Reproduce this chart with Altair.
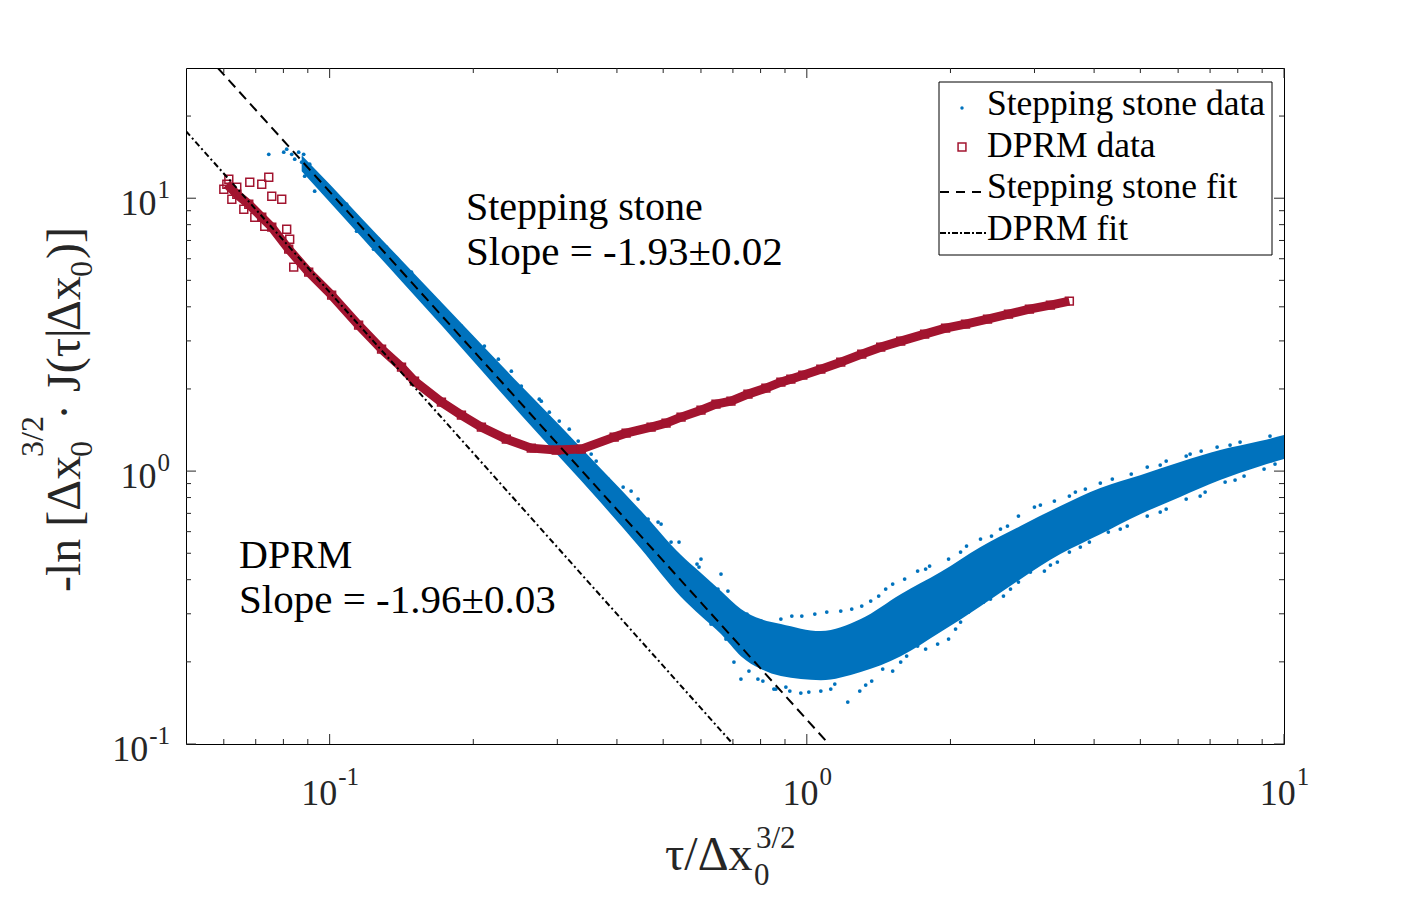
import altair as alt
import pandas as pd

BLUE = "#0072BD"
RED = "#A2142F"
FONT = "Liberation Serif"
DARK = "#262626"

# ---------------- data (decade exponents, log10) ----------------
# Stepping stone data: dense core of the cloud (upper / lower edge) at given log10(tau)
ss_band_lx = [-1.0586, -0.9958, -0.9331, -0.8494, -0.7657, -0.6820, -0.5983, -0.5146,
              -0.4310, -0.3473, -0.2636, -0.2218, -0.1799, -0.1381, -0.0962, -0.0544,
              0.0293, 0.1130, 0.1967, 0.2803, 0.3640, 0.4477, 0.5314, 0.6151,
              0.6987, 0.7824, 0.8661, 0.9498, 1.0]
ss_band_hi = [1.1575, 1.044, 0.9267, 0.7729, 0.619, 0.4652, 0.3114, 0.1612,
              0.0073, -0.1465, -0.3077, -0.3736, -0.4396, -0.505, -0.5421, -0.560,
              -0.586, -0.542, -0.451, -0.370, -0.278, -0.201, -0.128, -0.062,
              -0.015, 0.033, 0.077, 0.110, 0.132]
ss_band_lo = [1.099, 0.978, 0.857, 0.696, 0.5348, 0.37, 0.2051, 0.044,
              -0.1172, -0.2857, -0.4615, -0.5311, -0.5971, -0.678, -0.7253, -0.751,
              -0.766, -0.736, -0.678, -0.590, -0.495, -0.396, -0.304, -0.231,
              -0.158, -0.095, -0.033, 0.018, 0.044]

# Stepping stone data: individual scattered points
ss_dot_lx = [-1.1276, -1.0962, -1.0900, -1.0795, -1.0732, -1.0649, -1.0544, -1.0586,
             -1.0481, -1.0418, -1.0377, -1.0523, -1.0272, -1.0126, -1.0314, -0.9749,
             -0.8975, -0.8285, -0.7720, -0.7238, -0.6757, -0.6464,
             -0.6192, -0.5983, -0.5607, -0.5397, -0.5188, -0.4979, -0.4791, -0.4665,
             -0.4414, -0.4163, -0.3849, -0.3536, -0.3326, -0.3117, -0.2845, -0.2678,
             -0.2490, -0.2259, -0.1862, -0.1653, -0.1234, -0.1527, -0.1381, -0.1025,
             -0.0690, -0.0816,
             -0.9435, -0.9079, -0.8598, -0.7971, -0.7343, -0.6297, -0.5774, -0.4833,
             -0.3996, -0.3264, -0.2427, -0.2008, -0.1695,
             -0.9644, -0.8808, -0.7866, -0.7029, -0.5565, -0.4519, -0.3682, -0.3054,
             -0.2218, -0.1799,
             -0.2469, -0.2301, -0.1255, -0.0774, -0.0314, -0.0105, 0.0167, 0.0418,
             0.0711, 0.0941, 0.1151, 0.1506, 0.1799, 0.2050, 0.2322, 0.2573,
             0.2971, 0.3347, 0.3640, 0.3870, 0.4205, 0.4435, 0.4770, 0.5188,
             0.5502, 0.5837, 0.6402, 0.6799, 0.7134, 0.7531, 0.7950, 0.8264,
             0.8598, 0.9079,
             -0.0962, -0.0544, 0.1339, 0.1653, 0.2490, 0.3222, 0.4059, 0.4895,
             0.5628, 0.6151, 0.7406, 0.8033, 0.8870, 0.9707,
             -0.1213, -0.0921, -0.0649, -0.0356, 0.0042, 0.0293, 0.0586, 0.0858,
             0.1109, 0.1360, 0.1590, 0.1799, 0.2092, 0.2322, 0.2741, 0.2971,
             0.3222, 0.3389, 0.3703, 0.4121, 0.4435, 0.4686, 0.4979, 0.5251,
             0.5502, 0.5921, 0.6318, 0.6715, 0.7134, 0.7531, 0.7950, 0.8347,
             0.8766, 0.9163, 0.9582,
             -0.0439, -0.0126, 0.0502, 0.1234, 0.1967, 0.2490, 0.3117, 0.3849,
             0.4268, 0.5105, 0.5732, 0.6569, 0.7406, 0.8243, 0.8975, 0.9812]
ss_dot_ly = [1.161, 1.1685, 1.1795, 1.161, 1.143, 1.1685, 1.161, 1.132,
             1.117, 1.1245, 1.095, 1.0806, 1.0696, 1.022, 1.0256, 0.952,
             0.850, 0.729, 0.619, 0.531, 0.458, 0.410,
             0.3663, 0.3114, 0.2637, 0.2161, 0.1832, 0.1538, 0.1099, 0.0696,
             0.0366, -0.0293, -0.0586, -0.1026, -0.1758, -0.1868, -0.2601, -0.2601,
             -0.348, -0.3516, -0.4322, -0.4396, -0.5311, -0.6996, -0.7619, -0.7619,
             -0.7985, -0.7253,
             0.879, 0.8132, 0.7326, 0.6117, 0.5018, 0.3187, 0.2198, 0.0256,
             -0.1392, -0.2857, -0.4689, -0.5604, -0.6154,
             0.978, 0.8205, 0.6447, 0.4908, 0.2564, 0.0623, -0.0733, -0.1941,
             -0.3223, -0.3773,
             -0.348, -0.3407, -0.5238, -0.5714, -0.5311, -0.5311, -0.5238, -0.5165,
             -0.5128, -0.5055, -0.4945, -0.4579, -0.4139, -0.3956, -0.3663, -0.348,
             -0.3223, -0.2747, -0.2491, -0.2381, -0.2015, -0.1648, -0.1319, -0.1099,
             -0.0916, -0.0659, -0.0293, -0.011, 0.0147, 0.0366, 0.0549, 0.0733,
             0.0879, 0.1062,
             -0.5495, -0.5421, -0.4762, -0.4322, -0.359, -0.2967, -0.2125, -0.1245,
             -0.0769, -0.044, 0.022, 0.0623, 0.0952, 0.1282,
             -0.7326, -0.7692, -0.7985, -0.8059, -0.8095, -0.8059, -0.7802, -0.8462,
             -0.8059, -0.7692, -0.7253, -0.7326, -0.6777, -0.641, -0.6337, -0.6154,
             -0.5531, -0.5165, -0.4799, -0.4579, -0.4066, -0.37, -0.3663, -0.3333,
             -0.2967, -0.2601, -0.2234, -0.2015, -0.1648, -0.1392, -0.1026, -0.0769,
             -0.0403, -0.0183, 0.0073,
             -0.7912, -0.8132, -0.7985, -0.7839, -0.6996, -0.652, -0.5788, -0.4689,
             -0.4322, -0.3443, -0.2784, -0.2125, -0.1502, -0.0916, -0.033, 0.0256]

# DPRM data: main trace
dp_lx = [-1.2155, -1.1946, -1.1695, -1.1423, -1.1213, -1.0858, -1.0439, -0.9958,
         -0.9393, -0.8912, -0.8494, -0.8222, -0.7657, -0.7238, -0.6820, -0.6297,
         -0.5774, -0.5251, -0.4728, -0.4038, -0.3787, -0.3264, -0.2950, -0.2636,
         -0.2218, -0.1904, -0.1590, -0.1234, -0.0858, -0.0544, -0.0335, -0.0084,
         0.0293, 0.0711, 0.1151, 0.1548, 0.1967, 0.2469, 0.2908, 0.3326,
         0.3787, 0.4226, 0.4665, 0.5105, 0.5502]
dp_ly = [1.0513, 1.0147, 0.978, 0.9304, 0.8938, 0.8132, 0.7289, 0.6447,
         0.5348, 0.4469, 0.381, 0.3297, 0.2527, 0.2051, 0.1612, 0.1172,
         0.0842, 0.0769, 0.0806, 0.1245, 0.1392, 0.1612, 0.1758, 0.1978,
         0.2234, 0.2454, 0.2564, 0.2821, 0.304, 0.326, 0.337, 0.3516,
         0.3736, 0.3993, 0.4286, 0.4542, 0.4762, 0.5018, 0.5238, 0.5385,
         0.5568, 0.5751, 0.5934, 0.6081, 0.6227]
# DPRM data: scattered early points
dp_out_lx = [-1.2113, -1.1946, -1.1674, -1.1423, -1.1276, -1.1213, -1.1004, -1.1569,
             -1.1360, -1.0753, -1.0900, -1.0837, -1.1799, -1.2050, -1.2218]
dp_out_ly = [1.0696, 1.0403, 1.0586, 1.0513, 1.0769, 1.0073, 0.9963, 0.9304,
             0.8974, 0.7473, 0.8864, 0.8498, 0.9597, 0.9963, 1.033]

# fits (end points, real units)
ss_fit_x = [0.0583, 1.112]
ss_fit_y = [30.0, 0.1]
dp_fit_x = [0.05, 0.700]
dp_fit_y = [17.6, 0.1]

# axes
x_major = [0.1, 1, 10]
x_minor = [0.06, 0.07, 0.08, 0.09, 0.2, 0.3, 0.4, 0.5, 0.6, 0.7, 0.8, 0.9,
           2, 3, 4, 5, 6, 7, 8, 9]
y_major = [0.1, 1, 10]
y_minor = [0.2, 0.3, 0.4, 0.5, 0.6, 0.7, 0.8, 0.9, 2, 3, 4, 5, 6, 7, 8, 9, 20]
tick_sup = ["-1", "0", "1"]

# ---------------- frames ----------------
df_band = pd.DataFrame({"x": [10 ** v for v in ss_band_lx],
                        "hi": [10 ** v for v in ss_band_hi],
                        "lo": [10 ** v for v in ss_band_lo]})
df_ssdot = pd.DataFrame({"x": [10 ** v for v in ss_dot_lx], "y": [10 ** v for v in ss_dot_ly]})
df_dp = pd.DataFrame({"x": [10 ** v for v in dp_lx], "y": [10 ** v for v in dp_ly]})
df_dpo = pd.DataFrame({"x": [10 ** v for v in dp_out_lx], "y": [10 ** v for v in dp_out_ly]})
df_ssfit = pd.DataFrame({"x": ss_fit_x, "y": ss_fit_y})
df_dpfit = pd.DataFrame({"x": dp_fit_x, "y": dp_fit_y})

W, H = 1098, 676
xsc = alt.Scale(type="log", domain=[0.05, 10])
ysc = alt.Scale(type="log", domain=[0.1, 30])


def ex(f):
    return alt.X(f"{f}:Q", scale=xsc, axis=None)


def ey(f):
    return alt.Y(f"{f}:Q", scale=ysc, axis=None)


one = pd.DataFrame({"a": [0]})


def txt(s, x, y, size, angle=None, align="left", color="black"):
    kw = dict(text=s, fontSize=size, font=FONT, align=align, baseline="alphabetic", color=color)
    if angle is not None:
        kw["angle"] = angle
    return alt.Chart(one).mark_text(**kw).encode(x=alt.value(x), y=alt.value(y))


SQ = dict(shape="square", filled=False, size=62, strokeWidth=1.5, color=RED, opacity=1)

layers = []
# stepping stone data
layers.append(alt.Chart(df_band).mark_area(color=BLUE, opacity=1, clip=True, interpolate="monotone").encode(
    x=ex("x"), y=ey("hi"), y2=alt.Y2("lo")))
layers.append(alt.Chart(df_ssdot).mark_circle(color=BLUE, size=14, opacity=1, clip=True).encode(
    x=ex("x"), y=ey("y")))
# DPRM data
layers.append(alt.Chart(df_dp).mark_line(color=RED, strokeWidth=9, clip=True, strokeJoin="round").encode(
    x=ex("x"), y=ey("y")))
layers.append(alt.Chart(df_dp).mark_point(clip=True, **SQ).encode(x=ex("x"), y=ey("y")))
layers.append(alt.Chart(df_dpo).mark_point(clip=True, **SQ).encode(x=ex("x"), y=ey("y")))
# fits
layers.append(alt.Chart(df_ssfit).mark_line(color="black", strokeWidth=2, strokeDash=[10, 6], clip=True).encode(
    x=ex("x"), y=ey("y")))
layers.append(alt.Chart(df_dpfit).mark_line(color="black", strokeWidth=2, strokeDash=[6, 3, 2, 3], clip=True).encode(
    x=ex("x"), y=ey("y")))

# ticks (inward, all four sides)
for vals, L in ((x_major, 10), (x_minor, 5)):
    d = pd.DataFrame({"v": vals})
    layers.append(alt.Chart(d).mark_rule(color=DARK, strokeWidth=1).encode(
        x=ex("v"), y=alt.value(H), y2=alt.value(H - L)))
    layers.append(alt.Chart(d).mark_rule(color=DARK, strokeWidth=1).encode(
        x=ex("v"), y=alt.value(0), y2=alt.value(L)))
for vals, L in ((y_major, 10), (y_minor, 5)):
    d = pd.DataFrame({"v": vals})
    layers.append(alt.Chart(d).mark_rule(color=DARK, strokeWidth=1).encode(
        y=ey("v"), x=alt.value(0), x2=alt.value(L)))
    layers.append(alt.Chart(d).mark_rule(color=DARK, strokeWidth=1).encode(
        y=ey("v"), x=alt.value(W), x2=alt.value(W - L)))

# tick labels
BASE, SUP = 36, 25


def supw(s):
    return sum(0.333 if c == "-" else 0.5 for c in s) * SUP


for v, s in zip(x_major, tick_sup):
    d = pd.DataFrame({"v": [v]})
    dx = (BASE - supw(s)) / 2
    layers.append(alt.Chart(d).mark_text(text="10", fontSize=BASE, font=FONT, align="right",
                                         baseline="alphabetic", dx=dx, color=DARK).encode(
        x=ex("v"), y=alt.value(737)))
    layers.append(alt.Chart(d).mark_text(text=s, fontSize=SUP, font=FONT, align="left",
                                         baseline="alphabetic", dx=dx + 1, color=DARK).encode(
        x=ex("v"), y=alt.value(717)))
for v, s in zip(y_major, tick_sup):
    d = pd.DataFrame({"v": [v]})
    layers.append(alt.Chart(d).mark_text(text="10", fontSize=BASE, font=FONT, align="right",
                                         baseline="alphabetic", dy=17, color=DARK).encode(
        y=ey("v"), x=alt.value(-16 - supw(s) - 1)))
    layers.append(alt.Chart(d).mark_text(text=s, fontSize=SUP, font=FONT, align="right",
                                         baseline="alphabetic", dy=0, color=DARK).encode(
        y=ey("v"), x=alt.value(-16)))

# annotations
layers.append(txt("Stepping stone", 280, 152, 40))
layers.append(txt("Slope = -1.93\u00b10.02", 280, 197, 41))
layers.append(txt("DPRM", 53, 500, 40))
layers.append(txt("Slope = -1.96\u00b10.03", 53, 545, 41))

# legend
layers.append(alt.Chart(one).mark_rect(fill="white", stroke="black", strokeWidth=1).encode(
    x=alt.value(753), x2=alt.value(1086), y=alt.value(14), y2=alt.value(187)))
layers.append(alt.Chart(one).mark_circle(color=BLUE, size=12, opacity=1).encode(
    x=alt.value(776), y=alt.value(40)))
layers.append(alt.Chart(one).mark_point(**SQ).encode(x=alt.value(776), y=alt.value(79)))
layers.append(alt.Chart(one).mark_rule(color="black", strokeWidth=2, strokeDash=[9, 7]).encode(
    x=alt.value(754), x2=alt.value(800), y=alt.value(124)))
layers.append(alt.Chart(one).mark_rule(color="black", strokeWidth=2, strokeDash=[6, 2, 2, 2]).encode(
    x=alt.value(754), x2=alt.value(800), y=alt.value(165)))
LEG = 35.5
layers.append(txt("Stepping stone data", 801, 47, LEG))
layers.append(txt("DPRM data", 801, 89, LEG))
layers.append(txt("Stepping stone fit", 801, 130, LEG))
layers.append(txt("DPRM fit", 801, 172, LEG))

# axis titles
layers.append(txt("\u03c4/\u0394x", 479, 802, 48, color=DARK))
layers.append(txt("3/2", 570, 780, 31, color=DARK))
layers.append(txt("0", 568, 817, 31, color=DARK))

layers.append(txt("-ln [\u0394x", -106, 524, 48, angle=270, color=DARK))
layers.append(txt("3/2", -143, 389, 32, angle=270, color=DARK))
layers.append(txt("0", -94, 389, 32, angle=270, color=DARK))
layers.append(txt("\u00b7 J(\u03c4|", -106, 352, 48, angle=270, color=DARK))
layers.append(txt("\u0394x", -106, 263, 48, angle=270, color=DARK))
layers.append(txt("0", -94, 209, 32, angle=270, color=DARK))
layers.append(txt(")]", -106, 191, 48, angle=270, color=DARK))

chart = alt.layer(*layers).properties(
    width=W, height=H,
    autosize=alt.AutoSizeParams(type="none"),
    padding={"left": 178, "top": 60, "right": 120, "bottom": 149},
    background="white",
).configure_view(stroke="black", strokeWidth=1)

chart.save("out.html", embed_options={"renderer": "svg", "actions": False})
